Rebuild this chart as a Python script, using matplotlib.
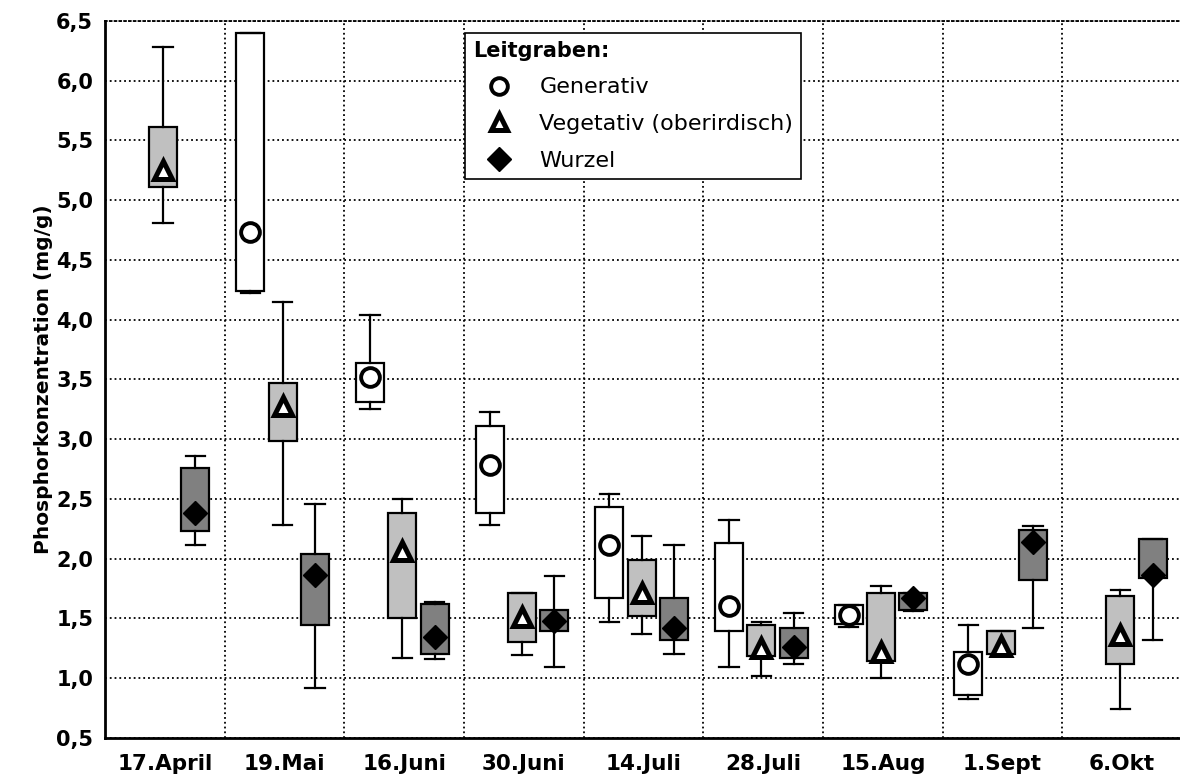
import numpy as np
import matplotlib
matplotlib.use('Agg')
import matplotlib.pyplot as plt
from matplotlib.lines import Line2D

plt.rcParams['font.family'] = ['DejaVu Sans']

# Sampling dates
dates = ['17.April', '19.Mai', '16.Juni', '30.Juni', '14.Juli',
         '28.Juli', '15.Aug', '1.Sept', '6.Okt']

# Generativ (None = no sample)
gen_whislo = [None, 4.22, 3.25, 2.28, 1.47, 1.09, 1.43, 0.82, None]
gen_q1 = [None, 4.24, 3.31, 2.38, 1.67, 1.39, 1.45, 0.86, None]
gen_q3 = [None, 6.40, 3.64, 3.11, 2.43, 2.13, 1.61, 1.22, None]
gen_whishi = [None, 6.40, 4.04, 3.23, 2.54, 2.32, 1.61, 1.44, None]
gen_mark = [None, 4.73, 3.52, 2.78, 2.11, 1.60, 1.53, 1.12, None]

# Vegetativ (oberirdisch)
veg_whislo = [4.81, 2.28, 1.17, 1.19, 1.37, 1.02, 1.00, 1.19, 0.74]
veg_q1 = [5.11, 2.98, 1.50, 1.30, 1.52, 1.18, 1.14, 1.20, 1.12]
veg_q3 = [5.61, 3.47, 2.38, 1.71, 1.99, 1.44, 1.71, 1.39, 1.69]
veg_whishi = [6.28, 4.15, 2.50, 1.71, 2.19, 1.47, 1.77, 1.39, 1.74]
veg_mark = [5.25, 3.28, 2.06, 1.51, 1.71, 1.25, 1.22, 1.27, 1.36]

# Wurzel
wur_whislo = [2.11, 0.92, 1.16, 1.09, 1.20, 1.12, 1.56, 1.42, 1.32]
wur_q1 = [2.23, 1.44, 1.20, 1.39, 1.32, 1.17, 1.57, 1.82, 1.84]
wur_q3 = [2.76, 2.04, 1.62, 1.57, 1.67, 1.42, 1.71, 2.24, 2.16]
wur_whishi = [2.86, 2.46, 1.64, 1.85, 2.11, 1.54, 1.71, 2.27, 2.16]
wur_mark = [2.38, 1.86, 1.34, 1.48, 1.42, 1.26, 1.67, 2.14, 1.86]

yticks = [0.5, 1.0, 1.5, 2.0, 2.5, 3.0, 3.5, 4.0, 4.5, 5.0, 5.5, 6.0, 6.5]

groups = [
    # data, offset, face colour, marker, marker face, marker size, edge width
    ((gen_whislo, gen_q1, gen_q3, gen_whishi, gen_mark), -0.285, 'white', 'o', 'white', 13.5, 2.8),
    ((veg_whislo, veg_q1, veg_q3, veg_whishi, veg_mark), -0.015, '#c0c0c0', '^', 'white', 13.5, 3.6),
    ((wur_whislo, wur_q1, wur_q3, wur_whishi, wur_mark), 0.255, '#808080', 'D', 'black', 12, 1.0),
]

fig = plt.figure(figsize=(11.8, 7.81), dpi=100)
ax = fig.add_axes([105 / 1180, 43.3 / 781, 1077 / 1180, 716.7 / 781])

for (lo, q1, q3, hi, mk), off, fc, marker, mfc, ms, mew in groups:
    stats = []
    pos = []
    for i in range(len(dates)):
        if lo[i] is None:
            continue
        stats.append({'whislo': lo[i], 'q1': q1[i], 'med': mk[i],
                      'q3': q3[i], 'whishi': hi[i], 'mean': mk[i]})
        pos.append(i + off)
    ax.bxp(stats, positions=pos, widths=0.235, capwidths=0.16,
           patch_artist=True, showfliers=False, showmeans=True,
           boxprops=dict(facecolor=fc, edgecolor='black', linewidth=1.6),
           whiskerprops=dict(color='black', linewidth=1.6),
           capprops=dict(color='black', linewidth=1.6),
           medianprops=dict(linewidth=0),
           meanprops=dict(marker=marker, markerfacecolor=mfc,
                          markeredgecolor='black', markersize=ms,
                          markeredgewidth=mew),
           manage_ticks=False, zorder=3)

ax.set_xlim(-0.5, 8.5)
ax.set_ylim(0.5, 6.5)
ax.set_xticks(np.arange(len(dates)))
ax.set_xticklabels(dates, fontsize=15.5, fontweight='bold')
ax.set_xticks(np.arange(0.5, 8.5, 1), minor=True)
ax.set_yticks(yticks)
ax.set_yticklabels([f'{v:.1f}'.replace('.', ',') for v in yticks],
                   fontsize=15, fontweight='bold')
ax.tick_params(axis='both', which='both', length=0)
ax.tick_params(axis='x', pad=12)
ax.tick_params(axis='y', pad=8.5)

ax.grid(axis='y', which='major', color='black', linestyle=':', linewidth=1.3)
ax.grid(axis='x', which='minor', color='black', linestyle=':', linewidth=1.3)
ax.set_axisbelow(True)

ax.set_ylabel('Phosphorkonzentration (mg/g)', fontsize=14.5, fontweight='bold',
              labelpad=2)

for s in ['left', 'bottom']:
    ax.spines[s].set_linewidth(2)
ax.spines['top'].set_linewidth(1.3)
ax.spines['top'].set_linestyle(':')
ax.spines['right'].set_visible(False)

handles = [
    Line2D([], [], linestyle='none', marker='o', markerfacecolor='white',
           markeredgecolor='black', markersize=12, markeredgewidth=2.8),
    Line2D([], [], linestyle='none', marker='^', markerfacecolor='white',
           markeredgecolor='black', markersize=12, markeredgewidth=3.6),
    Line2D([], [], linestyle='none', marker='D', markerfacecolor='black',
           markeredgecolor='black', markersize=12),
]
labels = ['Generativ', 'Vegetativ (oberirdisch)', 'Wurzel']
leg = ax.legend(handles, labels, title='Leitgraben:', loc='upper left',
                bbox_to_anchor=(465 / 1180, 1 - 33 / 781),
                bbox_transform=fig.transFigure, borderaxespad=0,
                prop={'size': 16},
                title_fontproperties={'weight': 'bold', 'size': 15},
                alignment='left', frameon=True, fancybox=False,
                edgecolor='black', framealpha=1, handlelength=2.4,
                handletextpad=0.6, labelspacing=0.75, borderpad=0.35)
leg.get_frame().set_linewidth(1.2)
leg.set_zorder(5)

fig.savefig('out.png', dpi=100)
